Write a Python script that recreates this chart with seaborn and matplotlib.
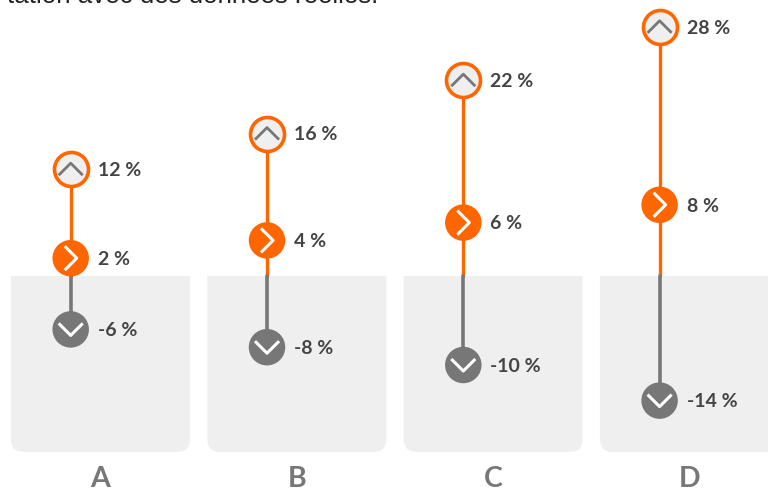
import matplotlib
matplotlib.use("Agg")
import matplotlib.pyplot as plt
import seaborn as sns
import numpy as np
from matplotlib.patches import FancyBboxPatch, Rectangle
from matplotlib.path import Path

categories = ["A", "B", "C", "D"]
high = [12, 16, 22, 28]
mid = [2, 4, 6, 8]
low = [-6, -8, -10, -14]

ORANGE = "#ff6600"
GRAY = "#777777"
PANEL = "#efefef"
TEXT = "#444444"
W, H = 768, 490

sns.set_theme(style="white")
plt.rcParams["font.family"] = ["Lato", "DejaVu Sans"]

fig = plt.figure(figsize=(W / 100, H / 100), dpi=100)
ax = fig.add_axes([0, (H - 452) / H, 1, 452 / H])
ypx = 8.9
xpx = 196.3
x = np.arange(len(categories))
stem_x = x - 29.8 / xpx          # stems sit left of each panel's centre
ax.set_xlim(-100.5 / xpx, (W - 100.5) / xpx)
ax.set_ylim(-176 / ypx, 276 / ypx)
for s in ax.spines.values():
    s.set_visible(False)

# panels
pw = 179 / xpx
r = 13 / xpx
for i in x:
    p = FancyBboxPatch((i - pw / 2, -176 / ypx), pw, 176 / ypx + 3,
                       boxstyle=f"round,pad=0,rounding_size={r}",
                       mutation_aspect=xpx / ypx, fc=PANEL, ec="none", zorder=1)
    ax.add_patch(p)
    clip = Rectangle((i - 1, -176 / ypx), 2, 176 / ypx, transform=ax.transData)
    p.set_clip_path(clip)

# stems
for i in x:
    sns.lineplot(x=[stem_x[i], stem_x[i]], y=[0, high[i]], color=ORANGE, lw=2.4, ax=ax, zorder=2,
                 estimator=None, sort=False, legend=False)
    sns.lineplot(x=[stem_x[i], stem_x[i]], y=[0, low[i]], color=GRAY, lw=2.6, ax=ax, zorder=2,
                 estimator=None, sort=False, legend=False)

# circles
sns.scatterplot(x=stem_x, y=high, s=600, color=PANEL, edgecolor=ORANGE, linewidth=2.6, ax=ax, zorder=3, legend=False)
sns.scatterplot(x=stem_x, y=mid, s=690, color=ORANGE, edgecolor="none", linewidth=0, ax=ax, zorder=3, legend=False)
sns.scatterplot(x=stem_x, y=low, s=690, color=GRAY, edgecolor="none", linewidth=0, ax=ax, zorder=3, legend=False)

# chevrons
up = Path([(-1, -0.5), (0, 0.5), (1, -0.5)], [Path.MOVETO, Path.LINETO, Path.LINETO])
down = Path([(-1, 0.5), (0, -0.5), (1, 0.5)], [Path.MOVETO, Path.LINETO, Path.LINETO])
right = Path([(-0.5, -1), (0.5, 0), (-0.5, 1)], [Path.MOVETO, Path.LINETO, Path.LINETO])
ax.scatter(stem_x, high, marker=up, s=300, facecolors="none", edgecolors=GRAY, linewidths=2.0, zorder=4)
ax.scatter(stem_x, mid, marker=right, s=300, facecolors="none", edgecolors="white", linewidths=2.2, zorder=4)
ax.scatter(stem_x, low, marker=down, s=300, facecolors="none", edgecolors="white", linewidths=2.2, zorder=4)

# value labels
for series in (high, mid, low):
    for sx, v in zip(stem_x, series):
        ax.annotate(f"{v} %", (sx, v), xytext=(19.5, -1.0), textcoords="offset points",
                    ha="left", va="center", fontsize=14, fontweight="bold", color=TEXT, zorder=5)

# category axis
ax.set_xticks(x)
ax.set_xticklabels(categories, fontsize=20.5, fontweight="bold", color=GRAY)
ax.tick_params(axis="x", length=0, pad=10)
ax.set_yticks([])

# text cut off by the top edge
fig.text(378 / W, 1 - 3 / H, "tation avec des données réelles.", ha="right", va="baseline",
         fontsize=18.6, color="#222222", family="Liberation Sans")

fig.savefig("out.png", dpi=100)
